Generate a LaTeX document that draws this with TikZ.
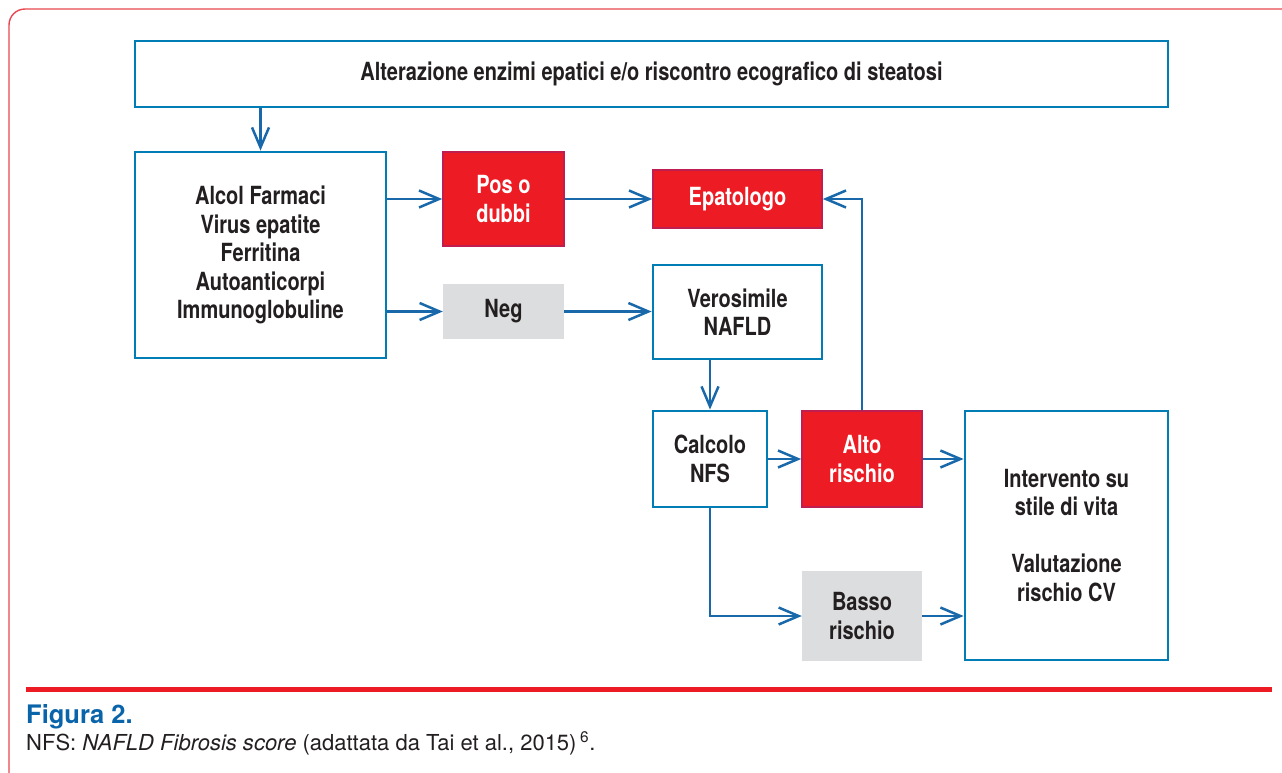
\documentclass[tikz,border=0pt]{standalone}
\usepackage{fontspec}
\setmainfont{TeX Gyre Heros}
\newfontfamily\condfont[FakeStretch=0.8]{TeX Gyre Heros}
\usetikzlibrary{arrows.meta}
\definecolor{boxblue}{RGB}{0,125,180}
\definecolor{arrblue}{RGB}{25,105,170}
\definecolor{fillred}{RGB}{237,28,36}
\definecolor{edgered}{RGB}{190,30,80}
\definecolor{fillgray}{RGB}{220,221,222}
\definecolor{framered}{RGB}{232,70,80}
\definecolor{capblue}{RGB}{10,100,170}
\definecolor{txt}{RGB}{35,31,32}
\tikzset{
  base/.style={font=\condfont\bfseries\fontsize{25}{28.5}\selectfont, align=center, inner sep=0pt, text=txt},
  whitebox/.style={base, draw=boxblue, line width=2.8pt, fill=white},
  redbox/.style={base, draw=edgered, line width=1.6pt, fill=fillred, text=white},
  graybox/.style={base, fill=fillgray},
  arr/.style={draw=arrblue, line width=2.5pt, -{Straight Barb[length=20pt,width=17pt,line width=2.5pt]}},
  ln/.style={draw=arrblue, line width=2.5pt}
}
\begin{document}
\begin{tikzpicture}[x=1pt,y=-1pt]
\useasboundingbox (0,0) rectangle (1282,772);
\begin{scope}
\clip (0,0) rectangle (1282,772);
\draw[framered, line width=1.4pt, rounded corners=16pt] (9,9) rectangle (1300,790);
\end{scope}
\draw[fillred, line width=5pt] (26,689) -- (1272,689);

\node[whitebox, minimum width=1033pt, minimum height=66pt] (top) at (651.5,74) {Alterazione enzimi epatici e/o riscontro ecografico di steatosi};
\node[whitebox, minimum width=251pt, minimum height=206pt] (left) at (260.5,255) {Alcol Farmaci\\Virus epatite\\Ferritina\\Autoanticorpi\\Immunoglobuline};
\node[redbox, minimum width=121pt, minimum height=94pt] (pos) at (503.5,199) {Pos o\\dubbi};
\node[redbox, minimum width=169pt, minimum height=58pt] (epa) at (737.5,199) {Epatologo};
\node[graybox, minimum width=121pt, minimum height=55pt] (neg) at (503.5,311.5) {Neg};
\node[whitebox, minimum width=169pt, minimum height=94pt] (vero) at (737.5,312) {Verosimile\\NAFLD};
\node[whitebox, minimum width=114pt, minimum height=96pt] (calc) at (710,459) {Calcolo\\NFS};
\node[redbox, minimum width=120pt, minimum height=96pt] (alto) at (862,459) {Alto\\rischio};
\node[whitebox, minimum width=203pt, minimum height=249pt] (interv) at (1066.5,535.5) {Intervento su\\stile di vita\\[28.5pt]Valutazione\\rischio CV};
\node[graybox, minimum width=120pt, minimum height=90pt] (basso) at (862,616) {Basso\\rischio};

\draw[arr] (top.south -| left) -- (left.north);
\draw[arr] (left.east |- pos) -- (pos.west);
\draw[arr] (pos.east) -- (epa.west);
\draw[arr] (left.east |- neg) -- (neg.west);
\draw[arr] (neg.east) -- (vero.west |- neg);
\draw[arr] (vero.south -| calc) -- (calc.north);
\draw[arr] (calc.east) -- (alto.west);
\draw[arr] (alto.north) |- (epa.east);
\draw[arr] (alto.east) -- (interv.west |- alto);
\draw[arr] (calc.south) |- (basso.west);
\draw[arr] (basso.east) -- (interv.west |- basso);

\node[anchor=base west, inner sep=0pt, text=capblue, font=\bfseries\fontsize{25.5}{30}\selectfont] (cap1) at (26,723) {Figura 2.};
\node[anchor=base west, inner sep=0pt, text=txt, font=\fontsize{22}{26}\selectfont] (cap2) at (26,750) {NFS: \textit{NAFLD Fibrosis score} (adattata da Tai et al., 2015)\,\textsuperscript{6}.};
\end{tikzpicture}
\end{document}
